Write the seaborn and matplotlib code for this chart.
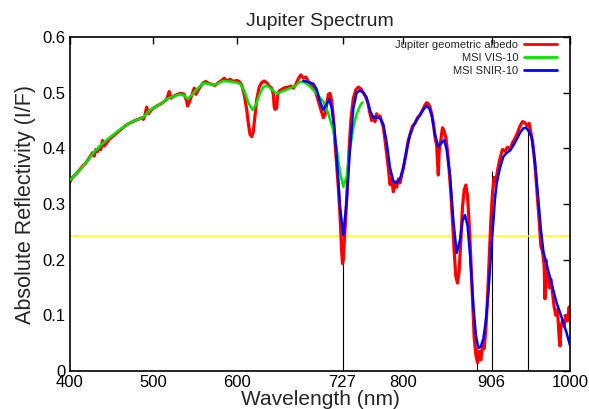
import matplotlib
matplotlib.use("Agg")
import matplotlib.pyplot as plt
import pandas as pd
import seaborn as sns

# Jupiter geometric albedo (measured spectrum)
albedo_nm = [400, 403, 406, 409, 412, 415, 418, 421, 424, 427, 429, 431, 433, 435, 437, 439, 441, 444, 447, 450,
             454, 458, 462, 466, 470, 474, 478, 482, 486, 488, 490, 492, 494, 497, 500, 504, 508, 512, 516, 519,
             521, 525, 529, 533, 537, 540, 541, 543, 546, 549, 551, 554, 557, 560, 563, 566, 570, 574, 578, 582,
             585, 588, 592, 596, 600, 603, 606, 609, 612, 614, 616, 618, 620, 622, 624, 627, 630, 633, 636, 639,
             642, 644, 645, 646, 647, 648, 649, 651, 654, 658, 662, 665, 668, 671, 674, 677, 680, 683, 686, 689,
             692, 695, 698, 701, 704, 706, 708, 710, 712, 714, 716, 718, 720, 722, 724, 726, 727, 728, 729, 731,
             733, 735, 737, 740, 743, 746, 749, 752, 755, 758, 760, 762, 764, 766, 768, 770, 772, 774, 776, 778,
             780, 782, 784, 786, 788, 790, 792, 794, 796, 798, 800, 803, 806, 808, 811, 814, 817, 820, 823, 826,
             828, 830, 832, 834, 836, 838, 840, 841, 842, 843, 845, 847, 849, 851, 853, 855, 857, 859, 861, 863,
             865, 867, 869, 871, 873, 875, 877, 879, 881, 883, 885, 887, 889, 891, 893, 895, 897, 899, 901, 903,
             905, 907, 909, 911, 913, 916, 919, 922, 925, 928, 931, 934, 937, 940, 943, 946, 949, 951, 953, 955,
             957, 959, 961, 963, 965, 967, 969, 970, 971, 973, 975, 977, 979, 981, 983, 985, 987, 988, 989, 991,
             993, 995, 997, 999, 1000]
albedo_val = [0.340, 0.348, 0.352, 0.357, 0.362, 0.368, 0.372, 0.378, 0.385, 0.392, 0.386, 0.398, 0.394, 0.403,
              0.398, 0.414, 0.404, 0.410, 0.416, 0.420, 0.425, 0.430, 0.435, 0.440, 0.444, 0.447, 0.450, 0.452,
              0.455, 0.452, 0.460, 0.474, 0.462, 0.468, 0.472, 0.476, 0.479, 0.483, 0.488, 0.502, 0.490, 0.494,
              0.497, 0.499, 0.497, 0.485, 0.476, 0.482, 0.495, 0.508, 0.497, 0.505, 0.512, 0.518, 0.520, 0.517,
              0.515, 0.513, 0.518, 0.522, 0.526, 0.521, 0.524, 0.520, 0.522, 0.520, 0.514, 0.497, 0.470, 0.445,
              0.425, 0.421, 0.430, 0.458, 0.487, 0.510, 0.518, 0.521, 0.518, 0.512, 0.508, 0.497, 0.475, 0.470,
              0.480, 0.472, 0.495, 0.503, 0.506, 0.509, 0.510, 0.512, 0.508, 0.515, 0.525, 0.532, 0.526, 0.528,
              0.520, 0.515, 0.512, 0.500, 0.485, 0.470, 0.455, 0.460, 0.478, 0.497, 0.499, 0.485, 0.455, 0.410,
              0.370, 0.330, 0.280, 0.215, 0.193, 0.200, 0.230, 0.280, 0.340, 0.400, 0.450, 0.490, 0.505, 0.510,
              0.507, 0.500, 0.492, 0.478, 0.462, 0.450, 0.457, 0.448, 0.462, 0.455, 0.458, 0.448, 0.438, 0.415,
              0.390, 0.365, 0.335, 0.345, 0.322, 0.340, 0.330, 0.345, 0.338, 0.352, 0.365, 0.388, 0.415, 0.425,
              0.440, 0.445, 0.455, 0.460, 0.468, 0.478, 0.482, 0.480, 0.474, 0.462, 0.445, 0.420, 0.405, 0.375,
              0.352, 0.395, 0.415, 0.437, 0.430, 0.420, 0.395, 0.360, 0.320, 0.270, 0.215, 0.170, 0.158, 0.180,
              0.235, 0.295, 0.325, 0.334, 0.315, 0.265, 0.200, 0.130, 0.060, 0.030, 0.015, 0.035, 0.020, 0.045,
              0.040, 0.075, 0.130, 0.200, 0.270, 0.320, 0.348, 0.340, 0.360, 0.382, 0.398, 0.395, 0.402, 0.398,
              0.410, 0.418, 0.428, 0.440, 0.448, 0.446, 0.440, 0.445, 0.428, 0.412, 0.385, 0.350, 0.310, 0.270,
              0.225, 0.215, 0.190, 0.130, 0.200, 0.180, 0.150, 0.165, 0.140, 0.115, 0.100, 0.110, 0.060, 0.045,
              0.080, 0.090, 0.080, 0.100, 0.090, 0.115, 0.100]

# MSI VIS-10 synthetic spectrum
vis_nm = [400, 410, 420, 428, 440, 448, 460, 468, 476, 484, 488, 496, 508, 518, 526, 532, 537, 541, 545, 548,
          554, 560, 567, 574, 584, 592, 600, 605, 610, 614, 619, 623, 628, 632, 636, 642, 648, 656, 664, 670,
          676, 682, 688, 696, 704, 710, 716, 720, 724, 728, 732, 736, 740, 744, 748, 751]
vis_val = [0.343, 0.358, 0.376, 0.392, 0.410, 0.420, 0.434, 0.442, 0.449, 0.453, 0.456, 0.469, 0.479, 0.490,
           0.494, 0.497, 0.495, 0.489, 0.494, 0.499, 0.509, 0.517, 0.516, 0.514, 0.521, 0.520, 0.518, 0.515,
           0.500, 0.482, 0.469, 0.478, 0.499, 0.510, 0.513, 0.506, 0.498, 0.503, 0.508, 0.512, 0.520, 0.518,
           0.511, 0.498, 0.484, 0.462, 0.432, 0.400, 0.357, 0.331, 0.350, 0.398, 0.438, 0.462, 0.476, 0.483]

# MSI SNIR-10 synthetic spectrum
snir_nm = [680, 684, 688, 692, 696, 700, 704, 708, 711, 714, 717, 720, 724, 728, 732, 736, 740, 744, 748, 752,
           756, 760, 764, 768, 772, 776, 780, 784, 788, 792, 796, 800, 804, 808, 812, 816, 820, 824, 828, 831,
           834, 838, 842, 846, 849, 852, 856, 860, 864, 868, 871, 874, 877, 880, 884, 887, 890, 893, 896, 899,
           902, 905, 907, 910, 912, 916, 920, 924, 928, 932, 936, 940, 944, 947, 950, 954, 958, 962, 965, 968,
           972, 976, 980, 984, 988, 992, 996, 1000]
snir_val = [0.521, 0.520, 0.518, 0.516, 0.506, 0.484, 0.469, 0.480, 0.488, 0.473, 0.440, 0.385, 0.295, 0.244,
            0.305, 0.400, 0.472, 0.500, 0.504, 0.500, 0.491, 0.468, 0.455, 0.456, 0.454, 0.443, 0.410, 0.365,
            0.341, 0.338, 0.345, 0.365, 0.398, 0.424, 0.440, 0.451, 0.460, 0.470, 0.476, 0.472, 0.460, 0.425,
            0.403, 0.410, 0.415, 0.398, 0.352, 0.270, 0.212, 0.235, 0.270, 0.280, 0.262, 0.210, 0.118, 0.065,
            0.041, 0.044, 0.058, 0.090, 0.140, 0.205, 0.248, 0.310, 0.337, 0.365, 0.385, 0.392, 0.396, 0.405,
            0.416, 0.428, 0.436, 0.437, 0.432, 0.420, 0.375, 0.307, 0.255, 0.215, 0.190, 0.168, 0.145, 0.122,
            0.105, 0.087, 0.068, 0.046]

# Filter band centres and the reference reflectivity level
filter_nm = [727, 888, 906, 950]
filter_top = [0.244, 0.040, 0.360, 0.437]
reference_level = 0.242

x_ticks = [400, 500, 600, 727, 800, 906, 1000]
y_ticks = [0, 0.1, 0.2, 0.3, 0.4, 0.5, 0.6]
y_tick_labels = ["0", "0.1", "0.2", "0.3", "0.4", "0.5", "0.6"]

sns.set_style("white")
plt.rcParams["font.family"] = ["Liberation Sans", "DejaVu Sans"]

fig = plt.figure(figsize=(5.89, 4.09), dpi=100)
ax = fig.add_axes([70 / 589, 1 - 371 / 409, 500 / 589, 334 / 409])

ax.vlines(filter_nm, 0, filter_top, color="black", lw=0.8, zorder=1)
ax.axhline(reference_level, color="#ffff00", lw=1.1, zorder=1)

albedo = pd.DataFrame({"nm": albedo_nm, "val": albedo_val})
vis = pd.DataFrame({"nm": vis_nm, "val": vis_val})
snir = pd.DataFrame({"nm": snir_nm, "val": snir_val})

sns.lineplot(data=albedo, x="nm", y="val", color="#ff0000", lw=2.3, sort=False, estimator=None,
             label="Jupiter geometric albedo", ax=ax, zorder=2)
sns.lineplot(data=vis, x="nm", y="val", color="#00e600", lw=1.8, sort=False, estimator=None,
             label="MSI VIS-10", ax=ax, zorder=3)
sns.lineplot(data=snir, x="nm", y="val", color="#0000ff", lw=1.8, sort=False, estimator=None,
             label="MSI SNIR-10", ax=ax, zorder=4)

ax.set_xlim(400, 1000)
ax.set_ylim(0, 0.6)
ax.set_xticks(x_ticks)
ax.set_xticklabels([str(t) for t in x_ticks])
ax.set_yticks(y_ticks)
ax.set_yticklabels(y_tick_labels)
ax.tick_params(direction="in", top=True, right=True, length=5, width=1, labelsize=12, pad=3,
               colors="black")
for s in ax.spines.values():
    s.set_visible(True)
    s.set_color("black")
    s.set_linewidth(1.2)

ax.set_xlabel("Wavelength (nm)", fontsize=15, labelpad=0)
ax.set_ylabel("Absolute Reflectivity (I/F)", fontsize=15.5, labelpad=5)
ax.set_title("Jupiter Spectrum", fontsize=14, pad=8)

leg = ax.legend(loc="upper right", bbox_to_anchor=(0.974, 0.99), frameon=False, markerfirst=False,
                fontsize=8, handlelength=3.0, handletextpad=0.5, labelspacing=0.25, borderpad=0,
                borderaxespad=0)
for line in leg.get_lines():
    line.set_linewidth(2.0)

fig.savefig("out.png", dpi=100)
